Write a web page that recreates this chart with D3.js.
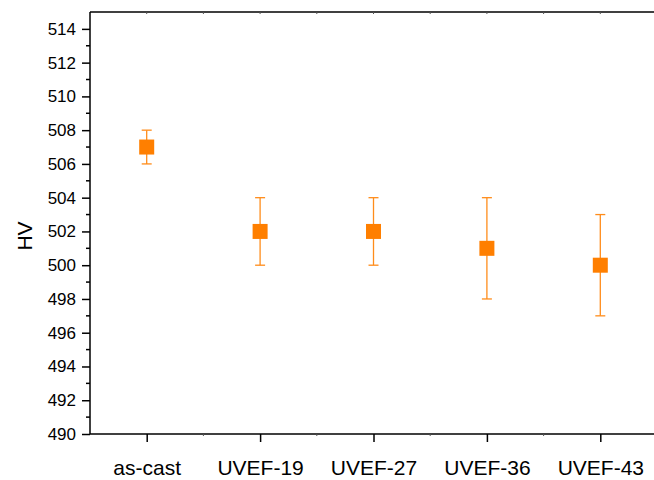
<!DOCTYPE html>
<html>
<head>
<meta charset="utf-8">
<script src="https://cdn.jsdelivr.net/npm/d3@7"></script>
<style>
  body { margin: 0; background: #fff; }
  svg { display: block; font-family: 'Liberation Sans', Arial, sans-serif; }
</style>
</head>
<body>
<svg class="chart"></svg>
<script>
const [width, height] = [654, 480]

// HV by sample, with error bar ends
const samples = ['as-cast', 'UVEF-19', 'UVEF-27', 'UVEF-36', 'UVEF-43']
const hv = [507, 502, 502, 501, 500]
const hvLow = [506, 500, 500, 498, 497]
const hvHigh = [508, 504, 504, 504, 503]
const yTicks = [490, 492, 494, 496, 498, 500, 502, 504, 506, 508, 510, 512, 514]

const plot = { left: 90, top: 12, right: 657, bottom: 434 }

const svg = d3.select('svg.chart')
	.attr('width', width)
	.attr('height', height)

const x = d3.scalePoint()
	.domain(samples)
	.range([plot.left, plot.right])
	.padding(0.5)

const y = d3.scaleLinear()
	.domain([490, 515])
	.range([plot.bottom, plot.top])

const minorY = d3.range(491, 515, 2)
const step = x.step()
const midX = samples.slice(0, -1).map(s => x(s) + step / 2)

// frame lines
svg.append('line')
	.attr('x1', plot.left).attr('x2', plot.left)
	.attr('y1', plot.top).attr('y2', plot.bottom)
	.attr('stroke', '#000').attr('stroke-width', 1.5)
svg.append('line')
	.attr('x1', plot.left).attr('x2', width)
	.attr('y1', plot.bottom).attr('y2', plot.bottom)
	.attr('stroke', '#000').attr('stroke-width', 1.5)
svg.append('line')
	.attr('x1', plot.left).attr('x2', width)
	.attr('y1', plot.top).attr('y2', plot.top)
	.attr('stroke', '#000').attr('stroke-width', 1.5)

// y axis
const yAxis = svg.append('g')
	.attr('transform', `translate(${plot.left},0)`)
	.call(d3.axisLeft(y).tickValues(yTicks).tickSize(8).tickPadding(6).tickFormat(d3.format('d')))
yAxis.select('.domain').remove()
yAxis.selectAll('line').attr('stroke-width', 1.5)
yAxis.selectAll('text')
	.attr('font-size', 17)
	.attr('fill', '#000')
	.attr('font-family', "'Liberation Sans', Arial, sans-serif")

svg.append('g').selectAll('line')
		.data(minorY)
	.enter().append('line')
		.attr('x1', plot.left - 4).attr('x2', plot.left)
		.attr('y1', d => y(d)).attr('y2', d => y(d))
		.attr('stroke', '#000').attr('stroke-width', 1.5)

// x axis
const xAxis = svg.append('g')
	.attr('transform', `translate(0,${plot.bottom})`)
	.call(d3.axisBottom(x).tickSize(8).tickPadding(18))
xAxis.select('.domain').remove()
xAxis.selectAll('line').attr('stroke-width', 1.5)
xAxis.selectAll('text')
	.attr('font-size', 21)
	.attr('fill', '#000')
	.attr('font-family', "'Liberation Sans', Arial, sans-serif")

svg.append('g').selectAll('line')
		.data(midX)
	.enter().append('line')
		.attr('x1', d => d).attr('x2', d => d)
		.attr('y1', plot.bottom).attr('y2', plot.bottom + 2)
		.attr('stroke', '#555').attr('stroke-width', 1)

// small ticks on top edge
svg.append('g').selectAll('line')
		.data(samples.map(s => x(s)).concat(midX))
	.enter().append('line')
		.attr('x1', d => d).attr('x2', d => d)
		.attr('y1', plot.top).attr('y2', plot.top + 2)
		.attr('stroke', '#555').attr('stroke-width', 1)

// axis title
svg.append('text')
	.attr('transform', `translate(32,236) rotate(-90)`)
	.attr('text-anchor', 'middle')
	.attr('font-size', 21)
	.text('HV')

// error bars
const bars = svg.append('g')
	.attr('stroke', '#ff8c1a')
	.attr('stroke-width', 1.3)

bars.selectAll('line.stem')
		.data(samples)
	.enter().append('line')
		.attr('class', 'stem')
		.attr('x1', d => x(d)).attr('x2', d => x(d))
		.attr('y1', (d, i) => y(hvLow[i])).attr('y2', (d, i) => y(hvHigh[i]))

bars.selectAll('line.capHi')
		.data(samples)
	.enter().append('line')
		.attr('class', 'capHi')
		.attr('x1', d => x(d) - 5).attr('x2', d => x(d) + 5)
		.attr('y1', (d, i) => y(hvHigh[i])).attr('y2', (d, i) => y(hvHigh[i]))

bars.selectAll('line.capLo')
		.data(samples)
	.enter().append('line')
		.attr('class', 'capLo')
		.attr('x1', d => x(d) - 5).attr('x2', d => x(d) + 5)
		.attr('y1', (d, i) => y(hvLow[i])).attr('y2', (d, i) => y(hvLow[i]))

// markers
svg.append('g').selectAll('rect')
		.data(samples)
	.enter().append('rect')
		.attr('x', d => x(d) - 7.5)
		.attr('y', (d, i) => y(hv[i]) - 7.5)
		.attr('width', 15)
		.attr('height', 15)
		.attr('fill', '#ff7f00')
</script>
</body>
</html>
